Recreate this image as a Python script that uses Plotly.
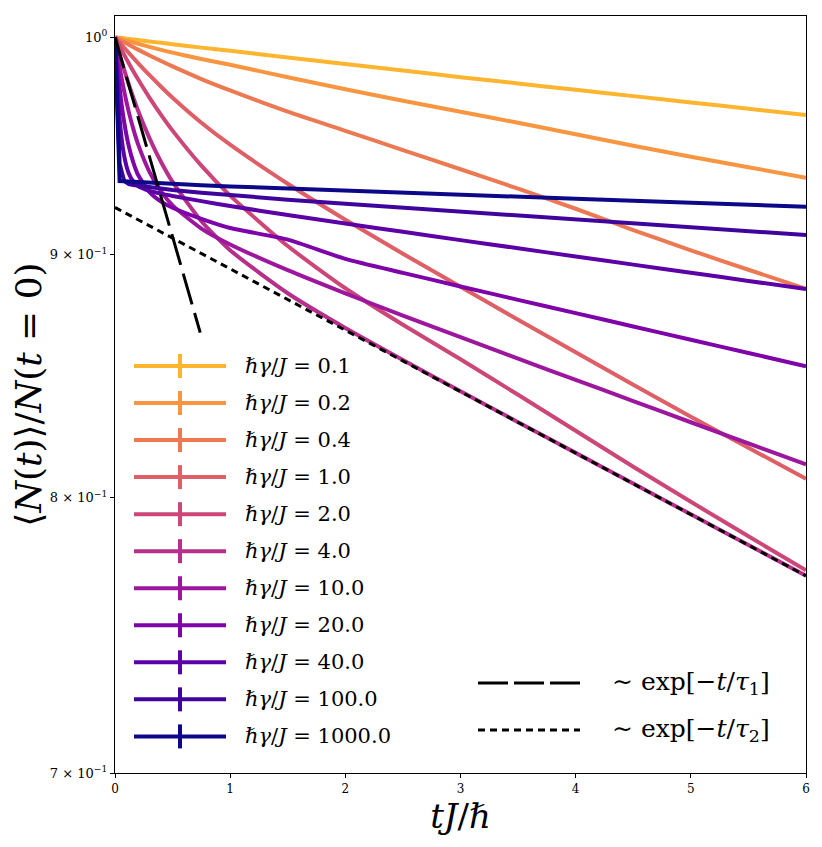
import math
import plotly.graph_objects as go

# time axis shared by every simulated curve (units of hbar/J)
t = [0, 0.04, 0.08, 0.12, 0.16, 0.2, 0.3, 0.4, 0.5, 0.75, 1.0,
     1.5, 2.0, 2.5, 3.0, 3.5, 4.0, 4.5, 5.0, 5.5, 6.0]

gamma_labels = ['0.1', '0.2', '0.4', '1.0', '2.0', '4.0',
                '10.0', '20.0', '40.0', '100.0', '1000.0']

n_01 = [1.0, 0.99971, 0.99947, 0.99918, 0.99893, 0.99864, 0.99797, 0.99729, 0.99661, 0.99497, 0.99343,
        0.99025, 0.98709, 0.98399, 0.98084, 0.97785, 0.97482, 0.97185, 0.96889, 0.96593, 0.96298]
n_02 = [1.0, 0.99932, 0.99869, 0.99806, 0.99743, 0.99685, 0.99536, 0.99391, 0.99256, 0.98949, 0.98676,
        0.98079, 0.97510, 0.96969, 0.96453, 0.95940, 0.95406, 0.94876, 0.94371, 0.93892, 0.93415]
n_04 = [1.0, 0.99874, 0.99753, 0.99632, 0.99516, 0.99401, 0.99122, 0.98853, 0.98595, 0.97994, 0.97454,
        0.96453, 0.95564, 0.94678, 0.93801, 0.92919, 0.92022, 0.91077, 0.90188, 0.89340, 0.88521]
n_1 = [1.0, 0.99743, 0.99492, 0.99242, 0.98997, 0.98757, 0.98175, 0.97629, 0.97110, 0.95940, 0.94922,
       0.93144, 0.91533, 0.90036, 0.88607, 0.87201, 0.85837, 0.84495, 0.83195, 0.81954, 0.80731]
n_2 = [1.0, 0.99565, 0.99146, 0.98743, 0.98351, 0.97980, 0.97105, 0.96308, 0.95573, 0.93965, 0.92609,
       0.90373, 0.88543, 0.86990, 0.85547, 0.84087, 0.82632, 0.81202, 0.79836, 0.78511, 0.77228]
n_4 = [1.0, 0.99179, 0.98432, 0.97738, 0.97100, 0.96508, 0.95217, 0.94133, 0.93225, 0.91466, 0.90188,
       0.88328, 0.86851, 0.85514, 0.84230, 0.82977, 0.81752, 0.80544, 0.79353, 0.78181, 0.77027]
n_10 = [1.0, 0.98575, 0.97407, 0.96434, 0.95629, 0.94949, 0.93674, 0.92802, 0.92174, 0.91143, 0.90443,
        0.89323, 0.88324, 0.87379, 0.86468, 0.85572, 0.84697, 0.83831, 0.82974, 0.82129, 0.81293]
n_20 = [1.0, 0.97582, 0.95958, 0.94853, 0.94093, 0.93551, 0.92761, 0.92339, 0.92067, 0.91572, 0.91165,
        0.90656, 0.89814, 0.89206, 0.88620, 0.88046, 0.87480, 0.86918, 0.86359, 0.85809, 0.85257]
n_40 = [1.0, 0.96121, 0.94403, 0.93610, 0.93234, 0.93040, 0.92824, 0.92698, 0.92595, 0.92362, 0.92142,
        0.91741, 0.91364, 0.90997, 0.90632, 0.90276, 0.89918, 0.89562, 0.89211, 0.88857, 0.88508]
n_100 = [1.0, 0.94065, 0.93266, 0.93130, 0.93085, 0.93054, 0.92982, 0.92923, 0.92865, 0.92739, 0.92626,
         0.92429, 0.92245, 0.92067, 0.91893, 0.91719, 0.91546, 0.91373, 0.91200, 0.91028, 0.90856]
n_1000 = [1.0, 0.93266, 0.93252, 0.93239, 0.93225, 0.93212, 0.93185, 0.93158, 0.93130, 0.93072, 0.93022,
          0.92923, 0.92829, 0.92739, 0.92649, 0.92559, 0.92469, 0.92379, 0.92290, 0.92201, 0.92111]

curves = [n_01, n_02, n_04, n_1, n_2, n_4, n_10, n_20, n_40, n_100, n_1000]

# plasma colormap samples, yellow for small gamma -> dark blue for large gamma
colors = ['#fdb42f', '#f89540', '#ed7953', '#de5f65', '#cc4778', '#b6308b',
          '#9c179e', '#7e03a8', '#5c01a6', '#3e049c', '#0d0887']

# the two exponential guides (end points)
t_fit1 = [0, 0.74]
n_fit1 = [1.0, 0.8666]
t_fit2 = [0, 6]
n_fit2 = [0.9208, 0.7702]

fit_labels = ['∼ exp[−<i>t</i>/<i>τ</i><sub>1</sub>]',
              '∼ exp[−<i>t</i>/<i>τ</i><sub>2</sub>]']

FONT = 'DejaVu Serif'

fig = go.Figure()
for lab, col, vals in zip(gamma_labels, colors, curves):
    # the sharp Zeno drop of the largest rates stays piecewise linear
    shape = 'linear' if lab in ('100.0', '1000.0') else 'spline'
    fig.add_trace(go.Scatter(x=t, y=vals, mode='lines', name=lab,
                             line=dict(color=col, width=4, shape=shape, smoothing=0.6),
                             showlegend=False))

fig.add_trace(go.Scatter(x=t_fit1, y=n_fit1, mode='lines', showlegend=False,
                         line=dict(color='black', width=3, dash='32px,9px')))
fig.add_trace(go.Scatter(x=t_fit2, y=n_fit2, mode='lines', showlegend=False,
                         line=dict(color='black', width=3, dash='7px,5px')))

# page has an 8px body margin; plot area wanted at x 115..806, y 16..773 of the window
OFF = 8
W, H = 822 - OFF, 847 - OFF
L, R, T, B = 115 - OFF, 806 - OFF, 16 - OFF, 773 - OFF


def px(x):
    return (x - OFF - L) / (R - L)


def py(y):
    return (B - (y - OFF)) / (B - T)


shapes = []
annotations = []

# legend of the gamma curves (line with error-bar tick, as in matplotlib)
for i, (lab, col) in enumerate(zip(gamma_labels, colors)):
    yy = 366 + 37.04 * i
    shapes.append(dict(type='line', xref='paper', yref='paper',
                       x0=px(134), x1=px(226), y0=py(yy), y1=py(yy),
                       line=dict(color=col, width=4)))
    shapes.append(dict(type='line', xref='paper', yref='paper',
                       x0=px(180), x1=px(180), y0=py(yy - 12), y1=py(yy + 12),
                       line=dict(color=col, width=4)))
    annotations.append(dict(xref='paper', yref='paper', x=px(243), y=py(yy),
                            xanchor='left', yanchor='middle', showarrow=False,
                            text=f'ℏ<i>γ</i>/<i>J</i> = {lab}',
                            font=dict(family=FONT, size=21, color='black')))

# legend of the fits
for j, (lab, dash) in enumerate(zip(fit_labels, ['30px,6px', '7px,5px'])):
    yy = 683 + 47 * j
    shapes.append(dict(type='line', xref='paper', yref='paper',
                       x0=px(478), x1=px(580), y0=py(yy), y1=py(yy),
                       line=dict(color='black', width=3, dash=dash)))
    annotations.append(dict(xref='paper', yref='paper', x=px(610), y=py(yy),
                            xanchor='left', yanchor='middle', showarrow=False,
                            text=lab, font=dict(family=FONT, size=25, color='black')))

fig.update_layout(
    width=W, height=H,
    margin=dict(l=L, r=W - R, t=T, b=H - B),
    plot_bgcolor='white', paper_bgcolor='white',
    font=dict(family=FONT, color='black'),
    shapes=shapes, annotations=annotations,
    showlegend=False,
)

fig.update_xaxes(
    range=[0, 6], tickvals=[0, 1, 2, 3, 4, 5, 6],
    ticks='outside', ticklen=4, tickwidth=1, tickcolor='black',
    showline=True, linecolor='black', linewidth=1.3, mirror=True,
    showgrid=False, zeroline=False,
    tickfont=dict(family=FONT, size=12),
    title=dict(text='<i>tJ</i>/ℏ', font=dict(family=FONT, size=34), standoff=4),
)
fig.update_yaxes(
    type='log', range=[math.log10(0.7), 0.00447],
    tickvals=[0.7, 0.8, 0.9, 1.0],
    ticktext=['7 × 10<sup>−1</sup>', '8 × 10<sup>−1</sup>', '9 × 10<sup>−1</sup>', '10<sup>0</sup>'],
    ticks='outside', ticklen=4, tickwidth=1, tickcolor='black',
    showline=True, linecolor='black', linewidth=1.3, mirror=True,
    showgrid=False, zeroline=False,
    tickfont=dict(family=FONT, size=13),
    title=dict(text='⟨<i>N</i>(<i>t</i>)⟩/<i>N</i>(<i>t</i> = 0)',
               font=dict(family=FONT, size=36), standoff=2),
)

fig.write_html('out.html')
